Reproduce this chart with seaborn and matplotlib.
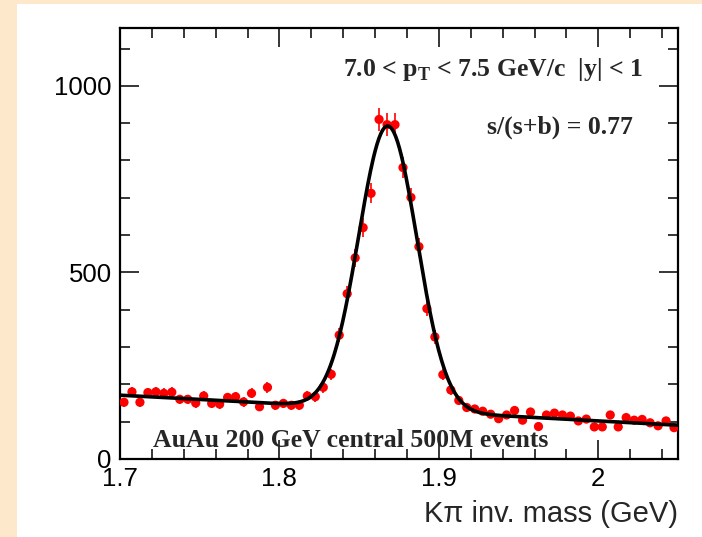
import numpy as np
import pandas as pd
import seaborn as sns
import matplotlib.pyplot as plt
from matplotlib.patches import Rectangle

# bin centres (GeV) and counts
mass = [1.7025, 1.7075, 1.7125, 1.7175, 1.7225, 1.7275, 1.7325, 1.7375, 1.7425, 1.7475,
        1.7525, 1.7575, 1.7625, 1.7675, 1.7725, 1.7775, 1.7825, 1.7875, 1.7925, 1.7975,
        1.8025, 1.8075, 1.8125, 1.8175, 1.8225, 1.8275, 1.8325, 1.8375, 1.8425, 1.8475,
        1.8525, 1.8575, 1.8625, 1.8675, 1.8725, 1.8775, 1.8825, 1.8875, 1.8925, 1.8975,
        1.9025, 1.9075, 1.9125, 1.9175, 1.9225, 1.9275, 1.9325, 1.9375, 1.9425, 1.9475,
        1.9525, 1.9575, 1.9625, 1.9675, 1.9725, 1.9775, 1.9825, 1.9875, 1.9925, 1.9975,
        2.0025, 2.0075, 2.0125, 2.0175, 2.0225, 2.0275, 2.0325, 2.0375, 2.0425, 2.0475]
counts = [152, 180, 152, 178, 180, 176, 179, 160, 160, 150,
          169, 149, 147, 165, 167, 153, 176, 140, 192, 144,
          149, 144, 144, 169, 167, 192, 227, 332, 443, 539,
          620, 712, 910, 896, 896, 781, 701, 569, 403, 327,
          226, 185, 157, 138, 134, 128, 120, 108, 118, 130,
          104, 126, 87, 118, 123, 118, 115, 102, 107, 86,
          86, 118, 86, 111, 104, 106, 97, 89, 102, 84]

# fit: gaussian peak on a linear background
peak_amp, peak_mean, peak_sigma = 760, 1.868, 0.0183
bkg_const, bkg_slope = 171, -230

df = pd.DataFrame({"mass": mass, "counts": counts})
df["err"] = np.sqrt(df["counts"])

xfit = np.linspace(1.7, 2.05, 600)
yfit = (bkg_const + bkg_slope * (xfit - 1.7)
        + peak_amp * np.exp(-0.5 * ((xfit - peak_mean) / peak_sigma) ** 2))
fit = pd.DataFrame({"mass": xfit, "fit": yfit})

sns.set_style("ticks")
plt.rcParams['font.family'] = ['Liberation Sans', 'DejaVu Sans']
plt.rcParams['mathtext.fontset'] = 'custom'
plt.rcParams['mathtext.rm'] = 'Liberation Serif:bold'
plt.rcParams['mathtext.bf'] = 'Liberation Serif:bold'

W, H = 702, 537
fig = plt.figure(figsize=(W / 100, H / 100), dpi=100, facecolor="#fee8cc")
# white pad area on the peach canvas
fig.patches.append(Rectangle((17 / W, 0), 1, 1 - 4 / H, transform=fig.transFigure,
                             facecolor="white", edgecolor="none", zorder=-10))
ax = fig.add_axes([120 / W, (H - 459) / H, (678 - 120) / W, (459 - 28) / H])
ax.set_facecolor("white")

# data points with error bars
ax.errorbar(df["mass"], df["counts"], yerr=df["err"], fmt="none",
            ecolor="red", elinewidth=1.2, zorder=2)
sns.scatterplot(data=df, x="mass", y="counts", ax=ax, color="red", s=44,
                edgecolor="none", zorder=3)
# fit curve
sns.lineplot(data=fit, x="mass", y="fit", ax=ax, color="black", lw=2.6, zorder=4)

ax.set_xlim(1.7, 2.05)
ax.set_ylim(0, 1155)
ax.set_xticks([1.7, 1.8, 1.9, 2.0])
ax.set_xticklabels(["1.7", "1.8", "1.9", "2"])
ax.set_xticks(np.arange(1.72, 2.05, 0.02), minor=True)
ax.set_yticks([0, 500, 1000])
ax.set_yticks(np.arange(100, 1155, 100), minor=True)
ax.tick_params(which="both", direction="in", top=True, right=True, width=1.1,
               labelsize=18.5, colors="black")
ax.tick_params(which="major", length=14, pad=6)
ax.tick_params(which="minor", length=7)
for sp in ax.spines.values():
    sp.set_linewidth(1.6)
    sp.set_color("black")

ax.set_ylabel("")
ax.set_xlabel("Kπ inv. mass (GeV)", loc="right", fontsize=21, labelpad=6)

serif = dict(family="Liberation Serif", weight="bold", fontsize=18.5, va="baseline",
             transform=ax.transAxes)
ax.text(0.40, 0.889, r"7.0 < p$_{\mathbf{T}}$ < 7.5 GeV/c  |y| < 1", **serif)
ax.text(0.658, 0.754, "s/(s+b) = 0.77", **serif)
ax.text(0.059, 0.028, "AuAu 200 GeV central 500M events", **serif)

fig.savefig("out.png", dpi=100, facecolor=fig.get_facecolor())
